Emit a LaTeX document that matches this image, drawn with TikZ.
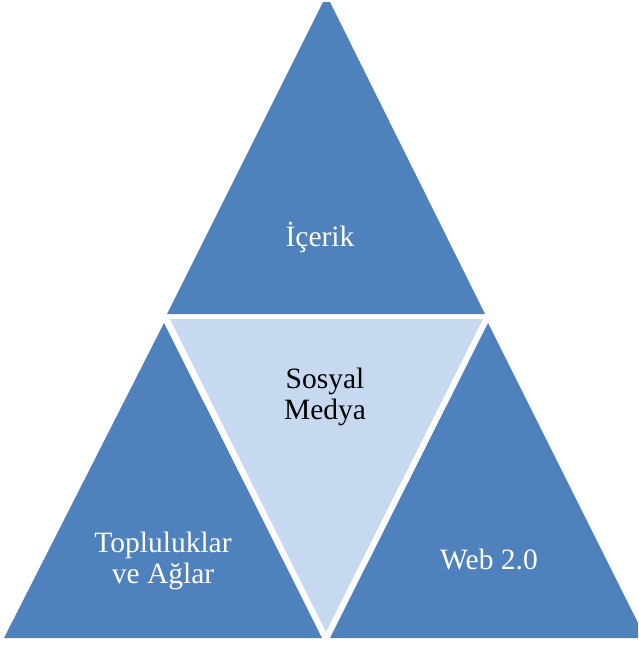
\documentclass[tikz,border=0pt]{standalone}
\usepackage{fontspec}
\setmainfont{Liberation Serif}
\definecolor{darkblue}{HTML}{4F81BD}
\definecolor{lightblue}{HTML}{C6D9F1}
\begin{document}
\begin{tikzpicture}[x=1pt,y=-1pt,
  outer/.style={fill=darkblue},
  inner/.style={fill=lightblue},
  lbl/.style={font=\fontsize{29.5}{31}\selectfont, align=center}]
\useasboundingbox (0,0) rectangle (638,645);
% top
\fill[outer] (323,2) -- (330,2) -- (485,314) -- (167,314) -- cycle;
% bottom-left
\fill[outer] (164,323) -- (322,638) -- (4,638) -- cycle;
% bottom-right
\fill[outer] (488,323) -- (638,623) -- (638,638) -- (330,638) -- cycle;
% middle
\fill[inner] (170,319) -- (483,319) -- (326,632) -- cycle;
\node[lbl, text=white] (icerik) at (320,237) {İçerik};
\node[lbl, text=black] (sm) at (325,397) {Sosyal\\Medya};
\node[lbl, text=white] (top) at (163,561) {Topluluklar\\ve Ağlar};
\node[lbl, text=white] (web) at (489,559) {Web 2.0};
\end{tikzpicture}
\end{document}
